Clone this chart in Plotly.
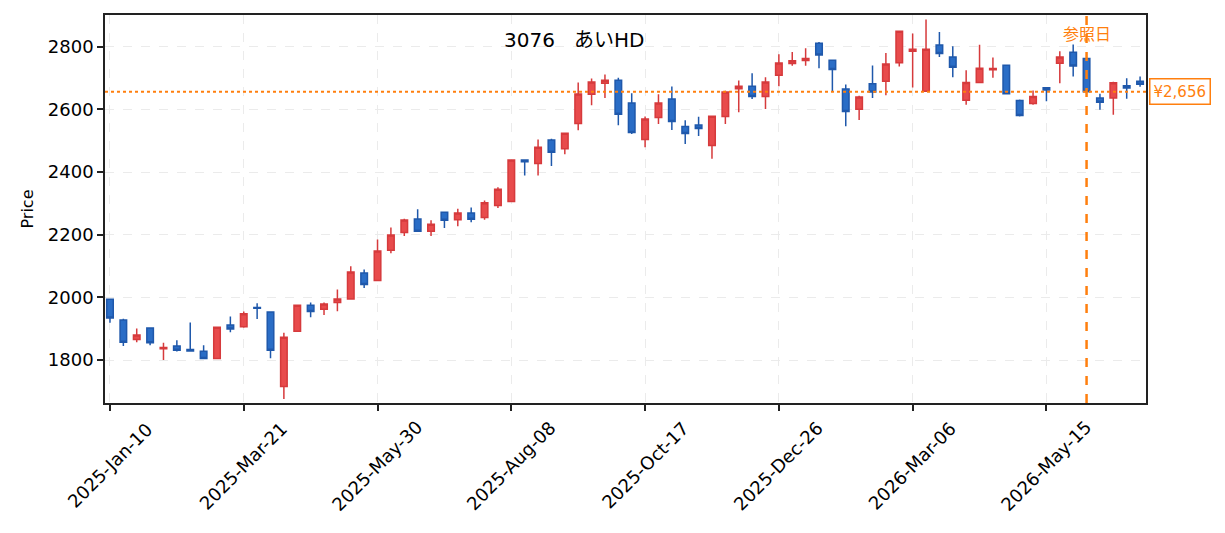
import pandas as pd
import plotly.graph_objects as go

# Weekly candles (Friday dates)
start = "2025-01-10"
n_weeks = 78
dates = pd.date_range(start, periods=n_weeks, freq="7D")

opens = [1994, 1928, 1866, 1902, 1836, 1845, 1834, 1828, 1805, 1912,
         1906, 1968, 1953, 1716, 1892, 1975, 1962, 1984, 1995, 2078,
         2054, 2150, 2207, 2250, 2211, 2272, 2248, 2269, 2255, 2293,
         2306, 2438, 2427, 2502, 2474, 2555, 2648, 2683, 2693, 2620,
         2504, 2574, 2633, 2545, 2550, 2485, 2577, 2666, 2674, 2641,
         2709, 2746, 2756, 2811, 2757, 2665, 2600, 2682, 2690, 2749,
         2785, 2658, 2805, 2767, 2629, 2686, 2726, 2741, 2628, 2619,
         2669, 2747, 2782, 2762, 2636, 2636, 2675, 2690]
highs = [1996, 1932, 1901, 1904, 1855, 1863, 1920, 1847, 1906, 1939,
         1955, 1981, 1955, 1887, 1976, 1984, 1984, 2025, 2099, 2089,
         2185, 2223, 2251, 2281, 2246, 2274, 2283, 2287, 2309, 2351,
         2440, 2440, 2504, 2506, 2525, 2686, 2698, 2711, 2701, 2651,
         2577, 2648, 2673, 2565, 2576, 2580, 2659, 2692, 2715, 2702,
         2776, 2783, 2795, 2815, 2759, 2679, 2643, 2740, 2780, 2850,
         2842, 2887, 2847, 2801, 2725, 2806, 2765, 2742, 2631, 2660,
         2671, 2785, 2807, 2764, 2650, 2688, 2699, 2705]
lows = [1919, 1845, 1857, 1847, 1800, 1827, 1827, 1804, 1804, 1889,
        1903, 1931, 1806, 1676, 1891, 1937, 1944, 1956, 1994, 2030,
        2053, 2141, 2196, 2210, 2196, 2221, 2227, 2240, 2248, 2285,
        2305, 2389, 2389, 2419, 2457, 2533, 2613, 2636, 2549, 2521,
        2479, 2553, 2534, 2489, 2515, 2442, 2553, 2591, 2633, 2601,
        2674, 2739, 2739, 2731, 2655, 2546, 2566, 2636, 2645, 2737,
        2670, 2656, 2767, 2702, 2615, 2684, 2701, 2647, 2577, 2615,
        2626, 2683, 2705, 2655, 2599, 2583, 2634, 2672]
closes = [1934, 1857, 1880, 1855, 1840, 1831, 1829, 1805, 1905, 1899,
          1948, 1965, 1831, 1873, 1975, 1955, 1979, 1995, 2081, 2041,
          2148, 2199, 2247, 2211, 2233, 2246, 2269, 2249, 2302, 2345,
          2438, 2433, 2479, 2463, 2524, 2649, 2687, 2693, 2584, 2526,
          2569, 2620, 2561, 2523, 2539, 2578, 2655, 2674, 2641, 2687,
          2748, 2755, 2762, 2773, 2727, 2593, 2639, 2655, 2745, 2849,
          2792, 2792, 2778, 2734, 2686, 2731, 2730, 2650, 2580, 2641,
          2662, 2767, 2738, 2656, 2623, 2685, 2668, 2680]

# every 10th week gets a date label
tick_dates = dates[::10]
tick_labels = [d.strftime("%Y-%b-%d") for d in tick_dates]

ticker_code = "3076"
ticker_name = "あいHD"
ref_date = dates[73]
ref_price = 2656
ref_label = "¥2,656"

orange = "#ff7f0e"
font_family = "DejaVu Sans, Noto Sans CJK JP"

fig = go.Figure()
fig.add_trace(go.Candlestick(
    x=dates, open=opens, high=highs, low=lows, close=closes,
    increasing=dict(line=dict(color="#d63a3c", width=1.5), fillcolor="#e84b4c"),
    decreasing=dict(line=dict(color="#1f58ab", width=1.5), fillcolor="#2a6dc6"),
    whiskerwidth=0,
    showlegend=False,
))

# reference price line and reference date line
fig.add_hline(y=ref_price, line=dict(color=orange, width=2, dash="dot"), layer="above")
fig.add_vline(x=ref_date, line=dict(color=orange, width=2.5, dash="dash"), layer="above")

fig.add_annotation(x=ref_date, y=0.953, xref="x", yref="paper", text="参照日",
                   yanchor="middle", showarrow=False,
                   font=dict(color=orange, size=16, family="Noto Sans CJK JP"))
fig.add_annotation(x=1.003, y=ref_price, xref="paper", yref="y", text=ref_label,
                   xanchor="left", yanchor="middle", showarrow=False,
                   font=dict(color=orange, size=15, family=font_family),
                   bgcolor="white", bordercolor=orange, borderwidth=1.5, borderpad=3)
fig.add_annotation(x=0.451, y=0.935, xref="paper", yref="paper",
                   text=ticker_code + "&nbsp;&nbsp;&nbsp;" + ticker_name,
                   yanchor="middle", showarrow=False,
                   font=dict(color="black", size=20, family=font_family))

# date labels centred under their ticks (rotated 45 degrees)
for d, lab in zip(tick_dates, tick_labels):
    fig.add_annotation(x=d, y=-0.162, xref="x", yref="paper", text=lab,
                       textangle=-45, xanchor="center", yanchor="middle",
                       showarrow=False, font=dict(size=18, color="black"))

fig.update_xaxes(
    range=[dates[0] - pd.Timedelta(days=2.6), dates[-1] + pd.Timedelta(days=3.1)],
    tickvals=tick_dates, showticklabels=False,
    ticks="outside", ticklen=6, tickwidth=1.5, tickcolor="#222",
    showline=True, linecolor="#222", linewidth=1.5, mirror=True,
    showgrid=True, gridcolor="#ebebeb", griddash="dash", gridwidth=1,
    rangeslider=dict(visible=False), zeroline=False,
)
fig.update_yaxes(
    range=[1663, 2901], tick0=1800, dtick=200,
    ticks="outside", ticklen=6, tickwidth=1.5, tickcolor="#222",
    showline=True, linecolor="#222", linewidth=1.5, mirror=True,
    showgrid=True, gridcolor="#ebebeb", griddash="dash", gridwidth=1,
    zeroline=False,
    title=dict(text="Price", font=dict(size=16, family="DejaVu Sans"), standoff=10),
    tickfont=dict(size=18, color="black"),
)
fig.update_layout(
    width=1225, height=533,
    margin=dict(l=97, r=87, t=7, b=138, autoexpand=False),
    plot_bgcolor="white", paper_bgcolor="white",
    font=dict(family=font_family, color="black"),
)
fig.write_html("out.html")
